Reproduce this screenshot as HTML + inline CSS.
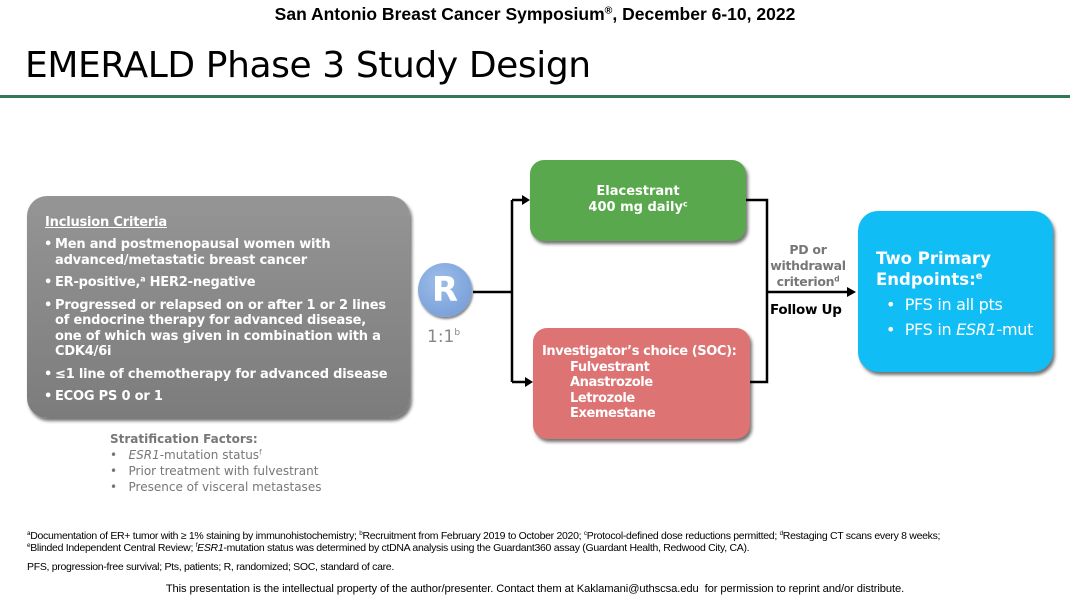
<!DOCTYPE html>
<html><head><style>
body{margin:0;width:1070px;height:602px;background:#fff;position:relative;overflow:hidden;font-family:"DejaVu Sans","Liberation Sans",sans-serif}
.a{position:absolute}
.hdr{left:0;width:1070px;top:4px;text-align:center;font:bold 17.5px "Liberation Sans",sans-serif}
.ttl{left:25px;top:45px;font-size:36px;letter-spacing:-0.4px}
.box{position:absolute;border-radius:20px;box-shadow:2px 3px 3px rgba(0,0,0,.55);color:#fff;font-weight:bold}
ul{margin:0;padding:0;list-style:none}
.gl li{position:relative;padding-left:11px;margin-bottom:7px;line-height:15.5px}
.gl li:before{content:"•";position:absolute;left:0}
.fn{font:10.5px "Liberation Sans",sans-serif;left:27px;letter-spacing:-0.3px;white-space:nowrap}
sup{font-size:60%;line-height:0;vertical-align:0.6em}
</style></head><body>
<div class="a hdr">San Antonio Breast Cancer Symposium<sup>®</sup>, December 6-10, 2022</div>
<div class="a ttl">EMERALD Phase 3 Study Design</div>
<div class="a" style="left:0;top:95px;width:1070px;height:3px;background:#2f7a55"></div>

<div class="box" style="left:27px;top:196px;width:383px;height:222px;background:linear-gradient(#959595,#7c7c7c);font-size:13px;letter-spacing:-0.2px">
 <div style="position:absolute;left:18px;top:19px;text-decoration:underline">Inclusion Criteria</div>
 <ul class="gl" style="position:absolute;left:17px;top:41px;width:352px">
  <li>Men and postmenopausal women with advanced/metastatic breast cancer</li>
  <li>ER-positive,<sup>a</sup> HER2-negative</li>
  <li>Progressed or relapsed on or after 1 or 2 lines<br>of endocrine therapy for advanced disease,<br>one of which was given in combination with a CDK4/6i</li>
  <li style="white-space:nowrap">≤1 line of chemotherapy for advanced disease</li>
  <li>ECOG PS 0 or 1</li>
 </ul>
</div>

<div class="a" style="left:110px;top:431px;color:#777;font-size:12px;line-height:16px">
 <b>Stratification Factors:</b><br>
 <span style="font-weight:normal">•&nbsp;&nbsp; <i>ESR1</i>-mutation status<sup>f</sup><br>•&nbsp;&nbsp; Prior treatment with fulvestrant<br>•&nbsp;&nbsp; Presence of visceral metastases</span>
</div>

<div class="a" style="left:418px;top:263px;width:54px;height:54px;border-radius:50%;background:radial-gradient(circle at 40% 35%,#9dbdea,#6f98d4);box-shadow:1px 2px 2px rgba(0,0,0,.5);color:#fff;font:bold 34px 'DejaVu Sans',sans-serif;text-align:center;line-height:54px">R</div>
<div class="a" style="left:427px;top:327px;color:#888;font-size:17px">1:1<sup style="font-size:9px;vertical-align:7px">b</sup></div>

<svg class="a" style="left:0;top:0" width="1070" height="602">
 <g stroke="#000" stroke-width="2.5" fill="none">
  <path d="M473 292H512M512 200V382M512 200H524M512 382H527"/>
  <path d="M746 200H767V382H750M767 292H848"/>
 </g>
 <g fill="#000">
  <path d="M530 200l-8-5v10z"/><path d="M533 382l-8-5v10z"/><path d="M856 292l-9-5v10z"/>
 </g>
</svg>

<div class="box" style="left:530px;top:160px;width:216px;height:81px;background:#5aa84d;text-align:center;font-size:13px;line-height:16px;border-radius:14px"><div style="padding-top:24px">Elacestrant<br>400 mg daily<sup>c</sup></div></div>

<div class="box" style="left:533px;top:328px;width:217px;height:111px;background:#dd7373;font-size:13px;letter-spacing:-0.4px;line-height:15.5px;border-radius:14px">
 <div style="padding:16px 0 0 9px;white-space:nowrap">Investigator’s choice (SOC):</div>
 <div style="padding-left:37px">Fulvestrant<br>Anastrozole<br>Letrozole<br>Exemestane</div>
</div>

<div class="a" style="left:763px;top:242px;width:90px;text-align:center;color:#777;font-weight:bold;font-size:12.5px;letter-spacing:-0.3px;line-height:16px">PD or<br>withdrawal<br>criterion<sup>d</sup></div>
<div class="a" style="left:770px;top:302px;font-weight:bold;font-size:13.5px;letter-spacing:-0.3px">Follow Up</div>

<div class="box" style="left:858px;top:211px;width:195px;height:161px;background:#11bdf5;border-radius:20px">
 <div style="position:absolute;left:18px;top:37px;font-size:16.5px;line-height:21px">Two Primary<br>Endpoints:<sup>e</sup></div>
 <div style="position:absolute;left:28px;top:81px;font-weight:normal;font-size:16px;line-height:25px;letter-spacing:-0.3px">•&nbsp; PFS in all pts<br>•&nbsp; PFS in <i>ESR1</i>-mut</div>
</div>

<div class="a fn" style="top:530px"><sup>a</sup>Documentation of ER+ tumor with ≥ 1% staining by immunohistochemistry; <sup>b</sup>Recruitment from February 2019 to October 2020; <sup>c</sup>Protocol-defined dose reductions permitted; <sup>d</sup>Restaging CT scans every 8 weeks;</div>
<div class="a fn" style="top:542px"><sup>e</sup>Blinded Independent Central Review; <sup>f</sup><i>ESR1</i>-mutation status was determined by ctDNA analysis using the Guardant360 assay (Guardant Health, Redwood City, CA).</div>
<div class="a fn" style="top:561px">PFS, progression-free survival; Pts, patients; R, randomized; SOC, standard of care.</div>
<div class="a" style="left:0;width:1070px;top:583px;text-align:center;font:11.2px 'Liberation Sans',sans-serif;letter-spacing:-0.1px">This presentation is the intellectual property of the author/presenter. Contact them at Kaklamani@uthscsa.edu&nbsp; for permission to reprint and/or distribute.</div>
</body></html>
